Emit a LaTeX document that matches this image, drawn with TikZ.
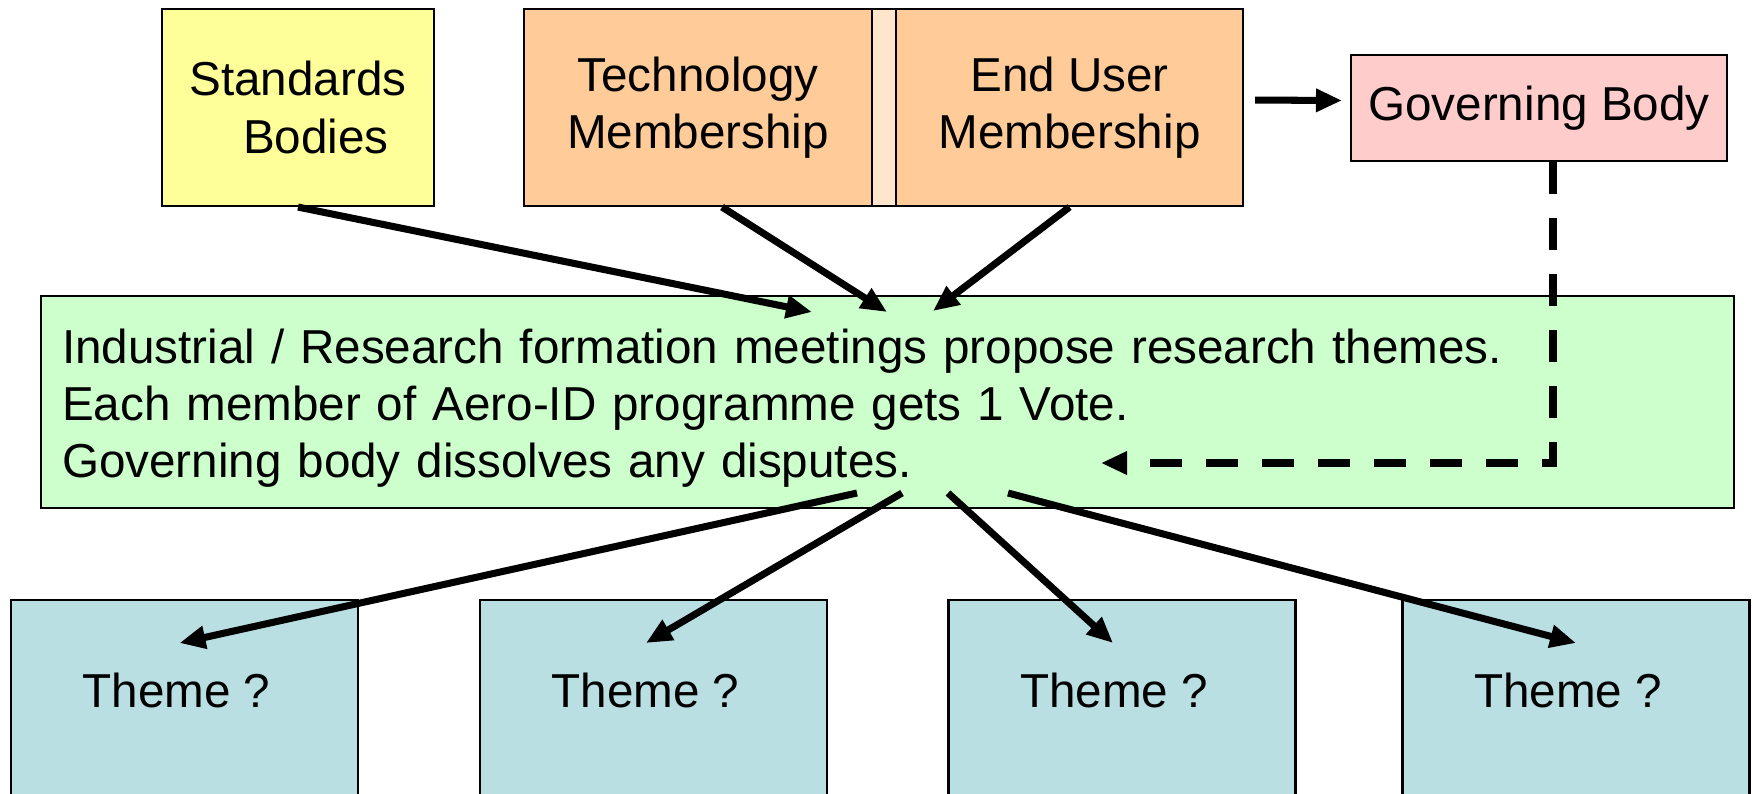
\documentclass[tikz,border=0pt]{standalone}
\usepackage{fontspec}
\setmainfont{Liberation Sans}
\usepackage{tikz}
\usetikzlibrary{arrows.meta}

\definecolor{stdyellow}{HTML}{FFFF99}
\definecolor{memorange}{HTML}{FFCC99}
\definecolor{gappeach}{HTML}{FFE5CC}
\definecolor{govpink}{HTML}{FFCCCC}
\definecolor{meetgreen}{HTML}{CCFFCC}
\definecolor{themeblue}{HTML}{B9DFE3}

\begin{document}
\begin{tikzpicture}[>={Triangle[length=2.6mm,width=2.2mm]},
  font=\fontsize{13.55pt}{16.3pt}\selectfont,
  box/.style={draw,line width=0.6pt,inner sep=0pt,align=center},
  top box/.style={box,minimum height=1.97cm},
  theme box/.style={box,fill=themeblue,anchor=north,minimum width=3.47cm,
    text height=1.07cm,text depth=0.99cm,execute at end node=\hspace*{1.6mm}},
  link/.style={->,line width=2pt}]
  \useasboundingbox (0,0) rectangle (17.53,-7.93);

  % members and bodies
  \node[top box,fill=gappeach,minimum width=1.37cm] (gap) at (8.815,-1.075) {};
  \node[top box,fill=stdyellow,minimum width=2.72cm] (std) at (2.98,-1.075) {Standards\\\hspace*{0.36cm}Bodies};
  \node[top box,fill=memorange,minimum width=3.48cm] (tech) at (6.98,-1.075) {Technology\\Membership};
  \node[top box,fill=memorange,minimum width=3.47cm] (user) at (10.695,-1.075) {End User\\Membership};
  \node[box,fill=govpink,minimum width=3.76cm,minimum height=1.06cm] (gov) at (15.39,-1.08) {Governing Body};

  % meetings
  \node[box,fill=meetgreen,align=left,text width=16.51cm,inner xsep=0.21cm,
    minimum height=2.12cm] (meet) at (8.875,-4.02)
    {\rule{0pt}{0.47cm}Industrial / Research formation meetings propose research themes.\\
     Each member of Aero-ID programme gets 1 Vote.\\
     Governing body dissolves any disputes.};

  % themes
  \node[theme box] (th1) at (1.845,-5.99) {Theme ?};
  \node[theme box] (th2) at (6.535,-5.99) {Theme ?};
  \node[theme box] (th3) at (11.22,-5.99) {Theme ?};
  \node[theme box] (th4) at (15.76,-5.99) {Theme ?};

  \coordinate (in1) at (8.12,-3.12);
  \coordinate (in2) at (8.87,-3.12);
  \coordinate (in3) at (9.33,-3.11);
  \coordinate (out1) at (8.57,-4.93);
  \coordinate (out2) at (9.02,-4.93);
  \coordinate (out3) at (9.48,-4.93);
  \coordinate (out4) at (10.08,-4.93);
  \coordinate (back) at (11.01,-4.63);

  \path[link]
    (std.south) edge (in1)
    ([xshift=2.4mm]tech.south) edge (in2)
    (user.south) edge (in3)
    ([yshift=0.75mm]user.east) edge[shorten <=1.1mm,shorten >=0.8mm] ([yshift=0.75mm]gov.west)
    (out1) edge ([xshift=-0.5mm,yshift=-4.4mm]th1.north)
    (out2) edge ([xshift=-0.75mm,yshift=-4.4mm]th2.north)
    (out3) edge ([xshift=-0.9mm,yshift=-4.4mm]th3.north)
    (out4) edge ([yshift=-4.4mm]th4.north);
  \draw[link,line width=2.1pt,dash pattern=on 3.15mm off 2.45mm] ([xshift=1.4mm]gov.south) |- (back);
\end{tikzpicture}
\end{document}
